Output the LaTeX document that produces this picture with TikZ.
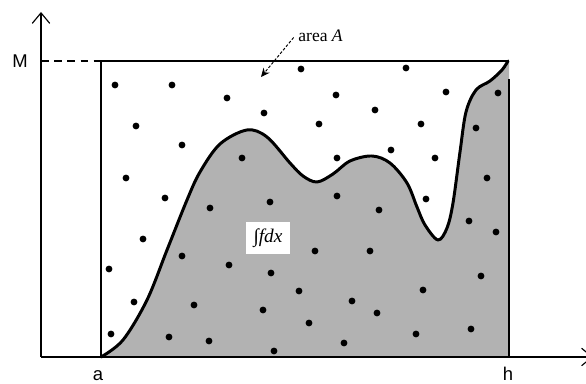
\documentclass[tikz,border=0pt]{standalone}
\usepackage{fontspec}
\setmainfont{Liberation Serif}
\newfontfamily\arialfont{Liberation Sans}
\usetikzlibrary{arrows.meta}
\definecolor{areagray}{RGB}{178,178,178}
\begin{document}
\begin{tikzpicture}[x=0.02cm,y=-0.02cm,
  axis/.style={line width=0.65pt},
  frameline/.style={line width=0.65pt},
  graphline/.style={line width=1.7pt, line join=round, line cap=round},
  sanslabel/.style={font=\arialfont\fontsize{10.5}{12}\selectfont, inner sep=0pt},
  seriflabel/.style={font=\fontsize{10}{12}\selectfont, inner sep=0pt},
  pointer/.style={line width=0.55pt, dash pattern=on 1.6pt off 1pt, -{Stealth[length=5pt,width=4.5pt]}},
]
\useasboundingbox (0,0) rectangle (586,384);
% reference points
\coordinate (O) at (41,357);
\coordinate (ytip) at (41,12);
\coordinate (xtip) at (593,357);
\coordinate (Mleft) at (41,61);
\coordinate (TL) at (101,61);
\coordinate (TR) at (508,61);
\coordinate (BL) at (101,357);
\coordinate (BR) at (509,357);
\coordinate (RT) at (509,79);
\coordinate (areahead) at (261,77);

% shaded area under the graph
\fill[areagray] plot[smooth,tension=0.55] coordinates {
 (101,357) (123,340) (147,300) (167,250) (187,200) (200,172) (220,144) (247,130)
 (267,137) (290,163) (303,176) (317,182) (333,174) (350,161) (372,156) (390,163)
 (407,183) (417,207) (425,225) (438,240) (447,228) (453,203) (460,152) (466,112)
 (476,90) (490,81) (502,70) (508,61)}
 -- (509,61) -- (BR) -- (BL) -- cycle;

% dots
\foreach \x/\y in {115/85,172/85,227/98,264/113,301/69,136/126,182/145,242/158,
  126/178,165/198,270/202,210/208,406/68,336/95,446/92,498/93,375/110,319/124,
  421/124,476/128,391/150,337/158,435/158,487/178,337/196,426/199,379/210,
  143/239,109/269,182/256,229/265,271/273,299/291,134/302,194/305,263/310,
  309/323,111/334,169/337,209/341,274/351,469/221,496/232,315/251,370/251,
  481/276,352/301,423/290,377/313,471/329,344/343,416/334}
  \fill (\x,\y) circle [radius=1.95pt];

% frame
\draw[frameline] (BL) -- (TL) -- (TR);
\draw[frameline] (RT) -- (BR);

% graph
\draw[graphline] plot[smooth,tension=0.55] coordinates {
 (101,357) (123,340) (147,300) (167,250) (187,200) (200,172) (220,144) (247,130)
 (267,137) (290,163) (303,176) (317,182) (333,174) (350,161) (372,156) (390,163)
 (407,183) (417,207) (425,225) (438,240) (447,228) (453,203) (460,152) (466,112)
 (476,90) (490,81) (502,70) (508,61)};

% axes
\draw[axis, -{Straight Barb[length=6pt,width=10pt]}] (O) -- (ytip);
\draw[axis, -{Straight Barb[length=6pt,width=10pt]}] (O) -- (xtip);
\draw[frameline, dash pattern=on 4.5pt off 3pt] (Mleft) -- (TL);

% labels
\node[sanslabel, anchor=base] (M) at (20,68) {M};
\node[sanslabel, anchor=base] (a) at (98,381) {a};
\node[sanslabel, anchor=base] (h) at (508,381) {h};
\node[seriflabel, anchor=base west] (areaA) at (298,41.5) {area \textit{A}};
\draw[pointer] ([xshift=-2.5pt,yshift=-1pt]areaA.west) -- (areahead);
\node[fill=white, inner sep=0pt, minimum width=24.5pt, minimum height=18.5pt,
  font=\fontsize{11}{13}\selectfont] (integral) at (268,238) {∫\textit{fdx}};
\end{tikzpicture}
\end{document}
